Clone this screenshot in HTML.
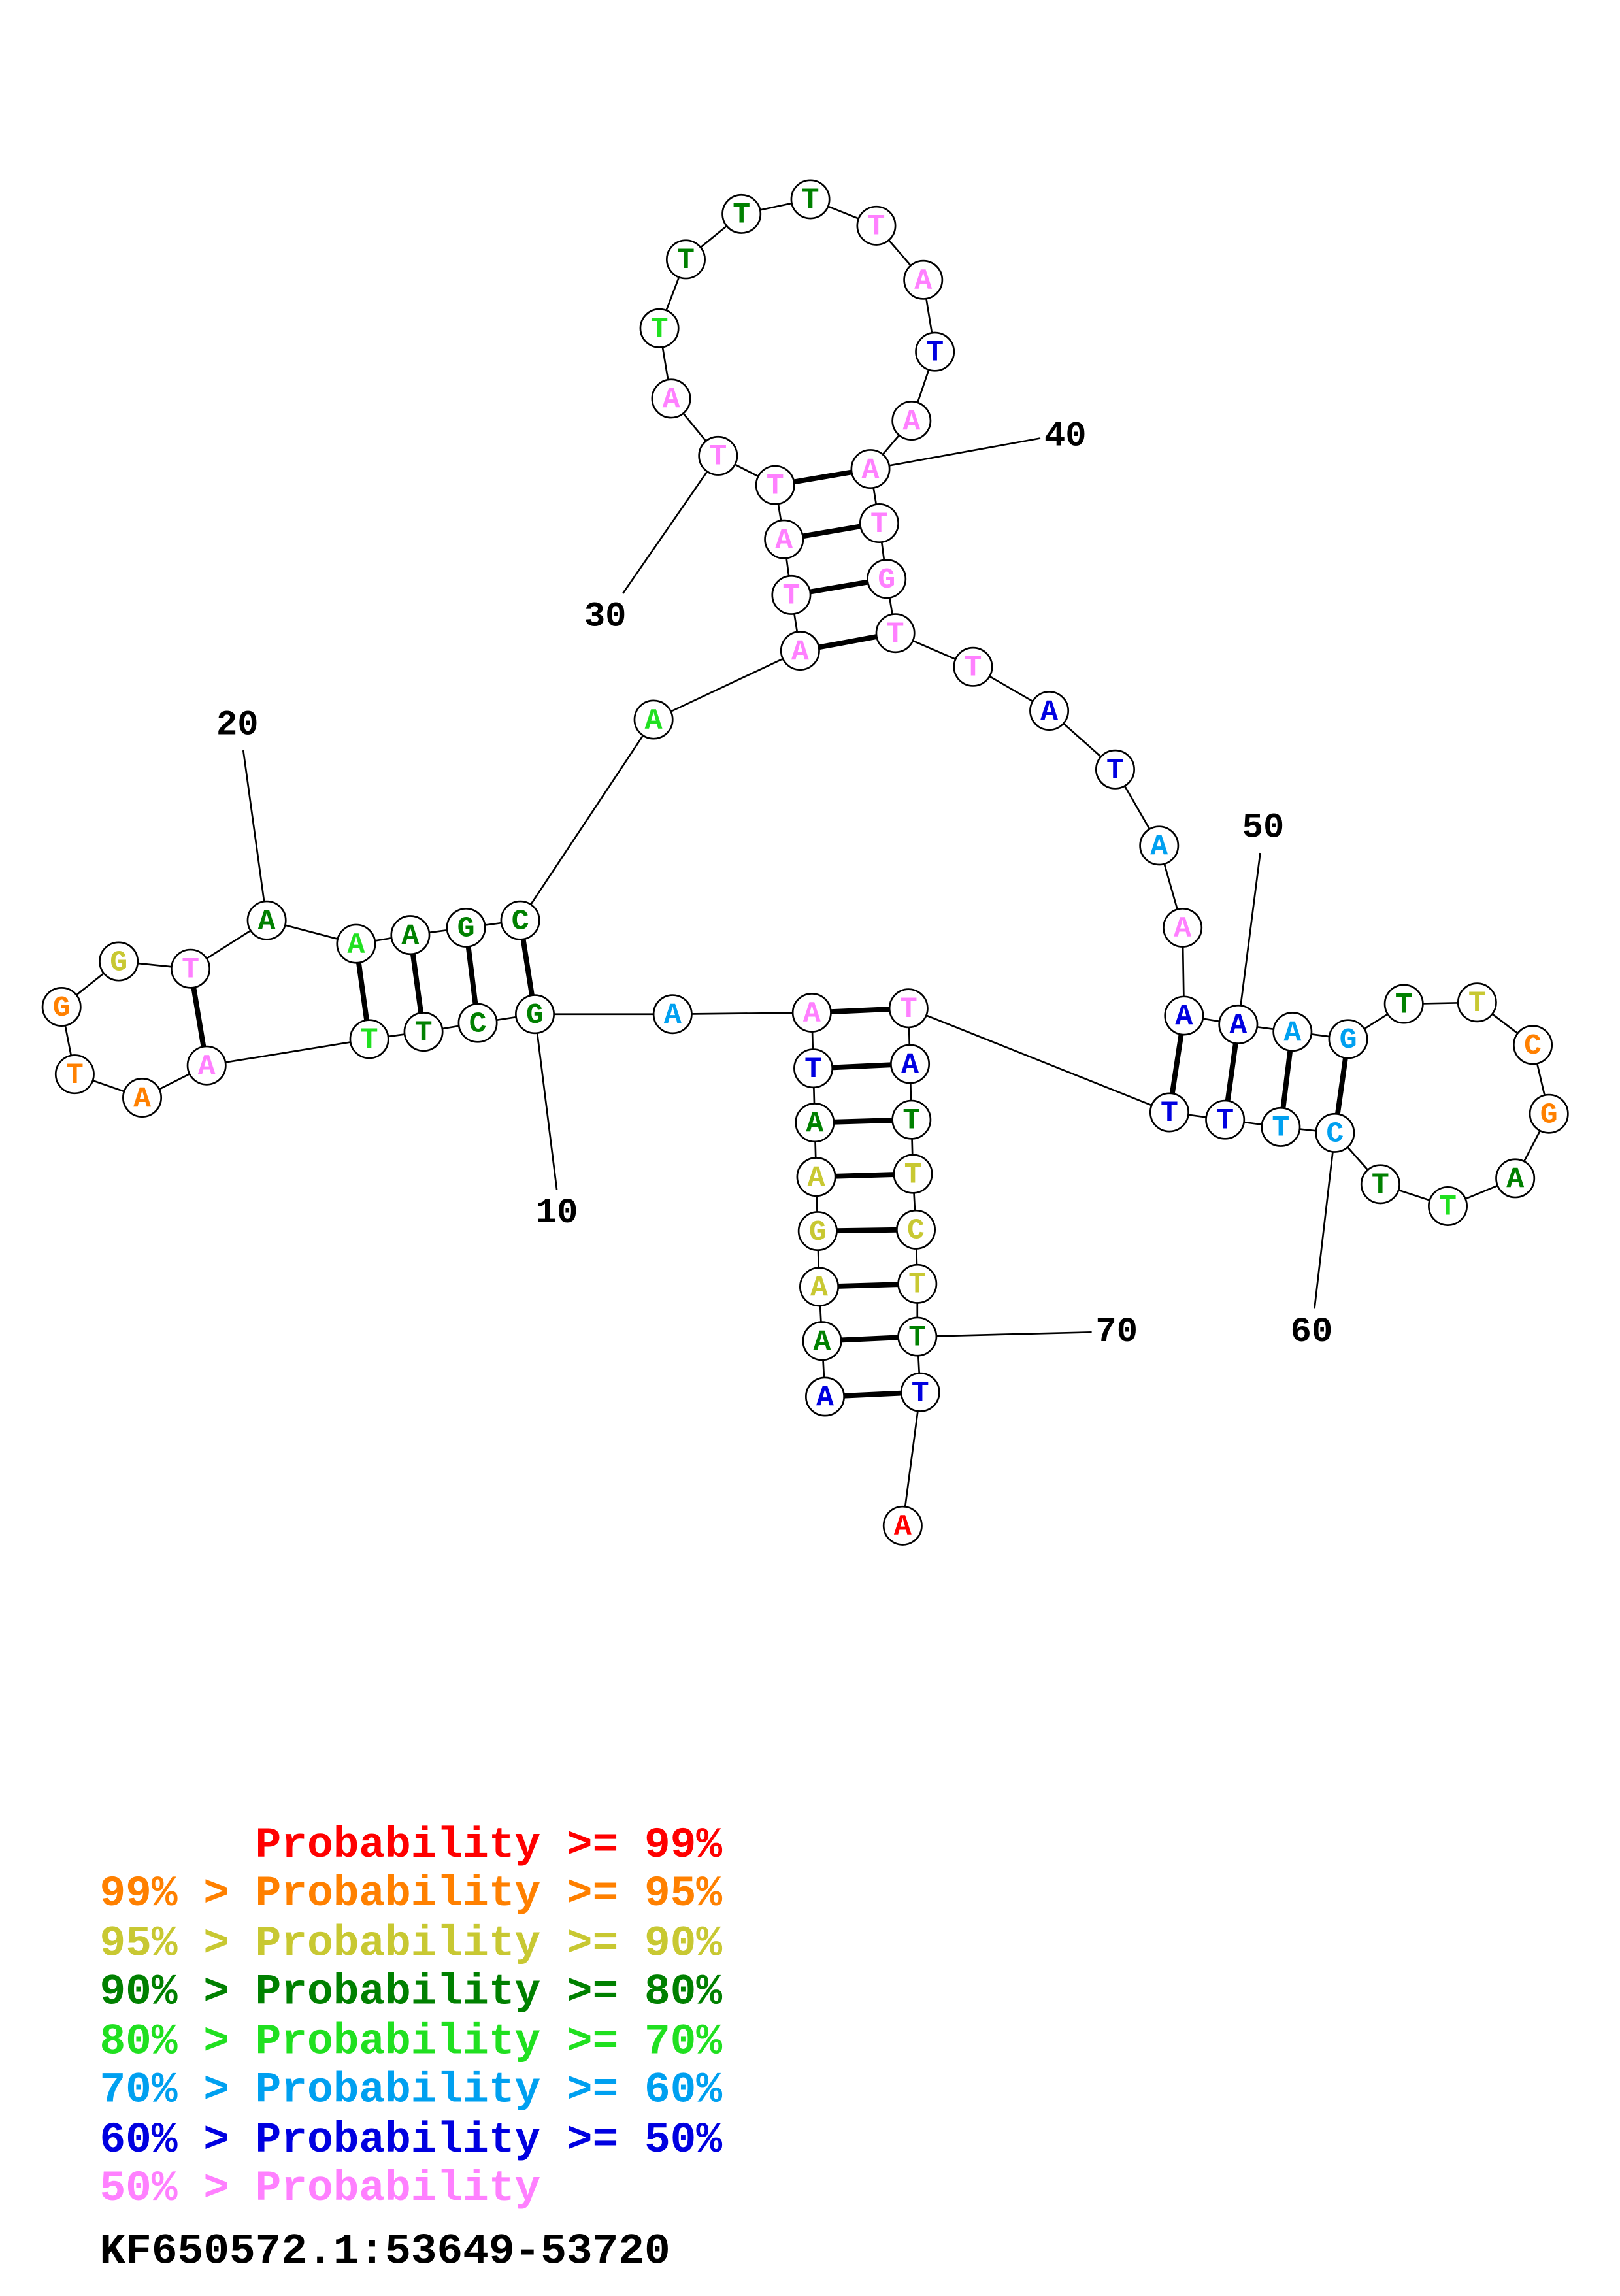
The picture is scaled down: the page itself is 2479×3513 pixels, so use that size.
<!DOCTYPE html>
<html><head><meta charset="utf-8"><style>html,body{margin:0;padding:0;background:#fff}.lg text{white-space:pre}</style></head>
<body>
<svg xmlns="http://www.w3.org/2000/svg" width="2479" height="3508" viewBox="0 0 1105.5 1564.4">
<rect width="1105.5" height="1564.4" fill="#fff"/>
<g stroke="#000" stroke-width="1.2" fill="none">
<polyline points="563,953 561,915 559,878 558,840 557,803 556,766 555,729 554,691 459,692 365,692 326,698 289,704 252,709 141,727 97,749 51,733 42,687 81,656 130,661 182,628 243,644 280,638 318,633 355,628 446,491 546,444 540,406 535,368 529,331 490,311 458,272 450,224 468,177 506,146 553,136 598,154 630,191 638,240 622,287 594,320 600,357 605,395 611,432 664,455 716,485 761,525 791,577 807,633 808,693 845,699 882,704 920,709 958,685 1008,684 1046,713 1057,760 1034,804 988,823 942,808 911,773 874,769 836,764 798,759 620,688 621,726 622,764 623,801 625,839 626,876 626,912 628,950 616,1041"/>
<line x1="365" y1="692" x2="380" y2="812"/>
<line x1="182" y1="628" x2="166" y2="512"/>
<line x1="490" y1="311" x2="425" y2="405"/>
<line x1="594" y1="320" x2="710" y2="299"/>
<line x1="845" y1="699" x2="860" y2="582"/>
<line x1="911" y1="773" x2="897" y2="893"/>
<line x1="626" y1="912" x2="745" y2="909"/>
</g>
<g stroke="#000" stroke-width="3.5">
<line x1="563" y1="953" x2="628" y2="950"/><line x1="561" y1="915" x2="626" y2="912"/>
<line x1="559" y1="878" x2="626" y2="876"/><line x1="558" y1="840" x2="625" y2="839"/>
<line x1="557" y1="803" x2="623" y2="801"/><line x1="556" y1="766" x2="622" y2="764"/>
<line x1="555" y1="729" x2="621" y2="726"/><line x1="554" y1="691" x2="620" y2="688"/>
<line x1="365" y1="692" x2="355" y2="628"/><line x1="326" y1="698" x2="318" y2="633"/>
<line x1="289" y1="704" x2="280" y2="638"/><line x1="252" y1="709" x2="243" y2="644"/>
<line x1="141" y1="727" x2="130" y2="661"/>
<line x1="546" y1="444" x2="611" y2="432"/><line x1="540" y1="406" x2="605" y2="395"/>
<line x1="535" y1="368" x2="600" y2="357"/><line x1="529" y1="331" x2="594" y2="320"/>
<line x1="808" y1="693" x2="798" y2="759"/><line x1="845" y1="699" x2="836" y2="764"/>
<line x1="882" y1="704" x2="874" y2="769"/><line x1="920" y1="709" x2="911" y2="773"/>
</g>
<g stroke="#000" stroke-width="1.2" fill="#fff">
<circle cx="563" cy="953" r="13"/><circle cx="561" cy="915" r="13"/><circle cx="559" cy="878" r="13"/><circle cx="558" cy="840" r="13"/><circle cx="557" cy="803" r="13"/><circle cx="556" cy="766" r="13"/><circle cx="555" cy="729" r="13"/><circle cx="554" cy="691" r="13"/><circle cx="459" cy="692" r="13"/><circle cx="365" cy="692" r="13"/><circle cx="326" cy="698" r="13"/><circle cx="289" cy="704" r="13"/><circle cx="252" cy="709" r="13"/><circle cx="141" cy="727" r="13"/><circle cx="97" cy="749" r="13"/><circle cx="51" cy="733" r="13"/><circle cx="42" cy="687" r="13"/><circle cx="81" cy="656" r="13"/><circle cx="130" cy="661" r="13"/><circle cx="182" cy="628" r="13"/><circle cx="243" cy="644" r="13"/><circle cx="280" cy="638" r="13"/><circle cx="318" cy="633" r="13"/><circle cx="355" cy="628" r="13"/><circle cx="446" cy="491" r="13"/><circle cx="546" cy="444" r="13"/><circle cx="540" cy="406" r="13"/><circle cx="535" cy="368" r="13"/><circle cx="529" cy="331" r="13"/><circle cx="490" cy="311" r="13"/><circle cx="458" cy="272" r="13"/><circle cx="450" cy="224" r="13"/><circle cx="468" cy="177" r="13"/><circle cx="506" cy="146" r="13"/><circle cx="553" cy="136" r="13"/><circle cx="598" cy="154" r="13"/><circle cx="630" cy="191" r="13"/><circle cx="638" cy="240" r="13"/><circle cx="622" cy="287" r="13"/><circle cx="594" cy="320" r="13"/><circle cx="600" cy="357" r="13"/><circle cx="605" cy="395" r="13"/><circle cx="611" cy="432" r="13"/><circle cx="664" cy="455" r="13"/><circle cx="716" cy="485" r="13"/><circle cx="761" cy="525" r="13"/><circle cx="791" cy="577" r="13"/><circle cx="807" cy="633" r="13"/><circle cx="808" cy="693" r="13"/><circle cx="845" cy="699" r="13"/><circle cx="882" cy="704" r="13"/><circle cx="920" cy="709" r="13"/><circle cx="958" cy="685" r="13"/><circle cx="1008" cy="684" r="13"/><circle cx="1046" cy="713" r="13"/><circle cx="1057" cy="760" r="13"/><circle cx="1034" cy="804" r="13"/><circle cx="988" cy="823" r="13"/><circle cx="942" cy="808" r="13"/><circle cx="911" cy="773" r="13"/><circle cx="874" cy="769" r="13"/><circle cx="836" cy="764" r="13"/><circle cx="798" cy="759" r="13"/><circle cx="620" cy="688" r="13"/><circle cx="621" cy="726" r="13"/><circle cx="622" cy="764" r="13"/><circle cx="623" cy="801" r="13"/><circle cx="625" cy="839" r="13"/><circle cx="626" cy="876" r="13"/><circle cx="626" cy="912" r="13"/><circle cx="628" cy="950" r="13"/><circle cx="616" cy="1041" r="13"/>
</g>
<g font-family="Liberation Mono, monospace" font-weight="bold" font-size="20" text-anchor="middle" dominant-baseline="central">
<text x="563" y="954" fill="#0000e0">A</text><text x="561" y="916" fill="#008000">A</text><text x="559" y="879" fill="#c8c832">A</text><text x="558" y="841" fill="#c8c832">G</text><text x="557" y="804" fill="#c8c832">A</text><text x="556" y="767" fill="#008000">A</text><text x="555" y="730" fill="#0000e0">T</text><text x="554" y="692" fill="#ff80ff">A</text><text x="459" y="693" fill="#00a0f0">A</text><text x="365" y="693" fill="#008000">G</text><text x="326" y="699" fill="#008000">C</text><text x="289" y="705" fill="#008000">T</text><text x="252" y="710" fill="#20e020">T</text><text x="141" y="728" fill="#ff80ff">A</text><text x="97" y="750" fill="#ff8000">A</text><text x="51" y="734" fill="#ff8000">T</text><text x="42" y="688" fill="#ff8000">G</text><text x="81" y="657" fill="#c8c832">G</text><text x="130" y="662" fill="#ff80ff">T</text><text x="182" y="629" fill="#008000">A</text><text x="243" y="645" fill="#20e020">A</text><text x="280" y="639" fill="#008000">A</text><text x="318" y="634" fill="#008000">G</text><text x="355" y="629" fill="#008000">C</text><text x="446" y="492" fill="#20e020">A</text><text x="546" y="445" fill="#ff80ff">A</text><text x="540" y="407" fill="#ff80ff">T</text><text x="535" y="369" fill="#ff80ff">A</text><text x="529" y="332" fill="#ff80ff">T</text><text x="490" y="312" fill="#ff80ff">T</text><text x="458" y="273" fill="#ff80ff">A</text><text x="450" y="225" fill="#20e020">T</text><text x="468" y="178" fill="#008000">T</text><text x="506" y="147" fill="#008000">T</text><text x="553" y="137" fill="#008000">T</text><text x="598" y="155" fill="#ff80ff">T</text><text x="630" y="192" fill="#ff80ff">A</text><text x="638" y="241" fill="#0000e0">T</text><text x="622" y="288" fill="#ff80ff">A</text><text x="594" y="321" fill="#ff80ff">A</text><text x="600" y="358" fill="#ff80ff">T</text><text x="605" y="396" fill="#ff80ff">G</text><text x="611" y="433" fill="#ff80ff">T</text><text x="664" y="456" fill="#ff80ff">T</text><text x="716" y="486" fill="#0000e0">A</text><text x="761" y="526" fill="#0000e0">T</text><text x="791" y="578" fill="#00a0f0">A</text><text x="807" y="634" fill="#ff80ff">A</text><text x="808" y="694" fill="#0000e0">A</text><text x="845" y="700" fill="#0000e0">A</text><text x="882" y="705" fill="#00a0f0">A</text><text x="920" y="710" fill="#00a0f0">G</text><text x="958" y="686" fill="#008000">T</text><text x="1008" y="685" fill="#c8c832">T</text><text x="1046" y="714" fill="#ff8000">C</text><text x="1057" y="761" fill="#ff8000">G</text><text x="1034" y="805" fill="#008000">A</text><text x="988" y="824" fill="#20e020">T</text><text x="942" y="809" fill="#008000">T</text><text x="911" y="774" fill="#00a0f0">C</text><text x="874" y="770" fill="#00a0f0">T</text><text x="836" y="765" fill="#0000e0">T</text><text x="798" y="760" fill="#0000e0">T</text><text x="620" y="689" fill="#ff80ff">T</text><text x="621" y="727" fill="#0000e0">A</text><text x="622" y="765" fill="#008000">T</text><text x="623" y="802" fill="#c8c832">T</text><text x="625" y="840" fill="#c8c832">C</text><text x="626" y="877" fill="#c8c832">T</text><text x="626" y="913" fill="#008000">T</text><text x="628" y="951" fill="#0000e0">T</text><text x="616" y="1042" fill="#ff0000">A</text>
</g>
<g font-family="Liberation Mono, monospace" font-weight="bold" font-size="24" text-anchor="middle" dominant-baseline="central" fill="#000">
<text x="380" y="828">10</text><text x="162" y="495">20</text><text x="413" y="421">30</text><text x="727" y="298">40</text><text x="862" y="565">50</text><text x="895" y="909">60</text><text x="762" y="909">70</text>
</g>
<g class="lg" font-family="Liberation Mono, monospace" font-weight="bold" font-size="29.5">
<text x="68" y="1267" fill="#ff0000">      Probability &gt;= 99%</text>
<text x="68" y="1300" fill="#ff8000">99% &gt; Probability &gt;= 95%</text>
<text x="68" y="1334" fill="#c8c832">95% &gt; Probability &gt;= 90%</text>
<text x="68" y="1367" fill="#008000">90% &gt; Probability &gt;= 80%</text>
<text x="68" y="1401" fill="#20e020">80% &gt; Probability &gt;= 70%</text>
<text x="68" y="1434" fill="#00a0f0">70% &gt; Probability &gt;= 60%</text>
<text x="68" y="1468" fill="#0000e0">60% &gt; Probability &gt;= 50%</text>
<text x="68" y="1501" fill="#ff80ff">50% &gt; Probability</text>
<text x="68" y="1544" fill="#000">KF650572.1:53649-53720</text>
</g>
</svg>
</body></html>
